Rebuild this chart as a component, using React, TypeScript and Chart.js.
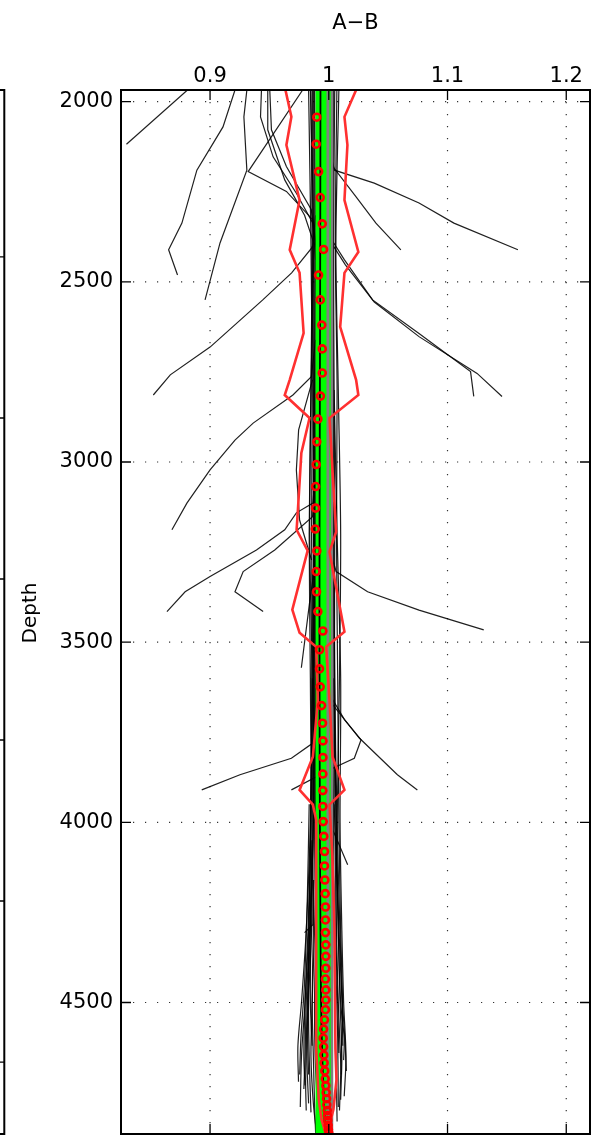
import React, { useEffect, useRef } from "react";
import { Chart, registerables } from "chart.js";

Chart.register(...registerables);

type Pair = [number, number];

const titleText = "A−B";
const depthLabel = "Depth";
const xTicks = [0.9, 1, 1.1, 1.2];
const depthTicks = [2000, 2500, 3000, 3500, 4000, 4500];
const neighborTicks = [1, 2, 3, 4, 5, 6];
const xLimits = [0.825, 1.22];
const depthLimits = [1967.5, 4865];
const neighborLimits = [-0.037, 6.447];

// red circle markers (value per depth bin)
const circleDepths = [
  2043, 2118, 2194, 2266, 2339, 2410, 2481, 2550, 2620, 2686, 2753,
  2817, 2881, 2944, 3007, 3068, 3128, 3186, 3247, 3304, 3360, 3415, 3469, 3521, 3574, 3624,
  3676, 3725, 3774, 3820, 3866, 3912, 3956, 3998, 4039, 4081, 4121, 4160, 4198, 4235,
  4271, 4306, 4340, 4372, 4405, 4435, 4465, 4493, 4520, 4548, 4574, 4599, 4623, 4646,
  4668, 4690, 4712, 4731, 4750, 4767, 4784, 4800, 4814, 4828, 4841, 4853, 4862,
];
const circleValues = [
  0.9899, 0.9894, 0.9914, 0.9928, 0.9945, 0.9956, 0.9914, 0.9928, 0.9941, 0.9945, 0.9945,
  0.993, 0.9908, 0.9899, 0.9894, 0.9889, 0.9889, 0.9886, 0.9899, 0.9894, 0.9897, 0.9908, 0.995, 0.9922, 0.9922, 0.9928,
  0.9939, 0.9947, 0.9951, 0.9951, 0.995, 0.995, 0.995, 0.9953, 0.9958, 0.9964, 0.9964, 0.9967, 0.997, 0.9972,
  0.9972, 0.9972, 0.9975, 0.9975, 0.9975, 0.9972, 0.9975, 0.9975, 0.9972, 0.9964, 0.9956, 0.9953, 0.9956, 0.9958,
  0.9961, 0.9966, 0.997, 0.9975, 0.9978, 0.9981, 0.9983, 0.9987, 0.9989, 0.9992, 0.9995, 0.9997, 1.0,
];

// red envelope lines [value, depth]
const envelopeLeft: Pair[] = [
  [0.9635, 1967.5], [0.9685, 2042], [0.9643, 2120], [0.9754, 2273], [0.9671, 2411],
  [0.9754, 2475], [0.9788, 2642], [0.9671, 2772], [0.9629, 2814], [0.9838, 2878],
  [0.9769, 2975], [0.974, 3133], [0.9729, 3188], [0.9822, 3246], [0.9693, 3410],
  [0.9754, 3474], [0.9894, 3513], [0.9908, 3660], [0.9866, 3818], [0.9754, 3910],
  [0.9866, 3951], [0.9894, 3993], [0.9894, 4630], [0.9916, 4770], [0.9939, 4825], [0.9972, 4862],
];
const envelopeRight: Pair[] = [
  [1.023, 1967.5], [1.0132, 2042], [1.0157, 2120], [1.0132, 2273], [1.0249, 2417],
  [1.0132, 2475], [1.0096, 2625], [1.023, 2772], [1.0249, 2814], [1.0006, 2878],
  [1.0031, 3022], [1.0062, 3194], [1.0006, 3249], [1.0132, 3471], [0.9978, 3513],
  [1.0006, 3660], [1.0031, 3818], [1.0132, 3910], [1.0006, 3951], [1.0031, 4100],
  [1.0048, 4300], [1.0056, 4630], [1.0065, 4714], [1.0039, 4797], [0.9989, 4862],
];

// green band and its grey edges
const bandOutline: Pair[] = [[0.9889, 1950], [0.9889, 4880], [1.0027, 4880], [1.0027, 1950]];
const greyEdgeInner: Pair[] = [[0.9993, 1950], [0.9993, 4880]];
const greyEdgeOuter: Pair[] = [[1.0027, 1950], [1.0027, 4880]];

// black mean curve
const meanLine: Pair[] = [
  [0.993, 1967.5], [0.9928, 2400], [0.9925, 2800], [0.9922, 3200], [0.9922, 3600],
  [0.9925, 4000], [0.993, 4300], [0.9935, 4500], [0.9945, 4650], [0.996, 4780], [0.997, 4870],
];

// central bundle of logs [value, depth]
const cluster01: Pair[] = [[0.983, 1967.5], [0.985, 2400], [0.986, 2800], [0.9855, 3200], [0.9865, 3600], [0.987, 4000], [0.984, 4300], [0.981, 4500], [0.98, 4650], [0.979, 4740]];
const cluster02: Pair[] = [[0.985, 1967.5], [0.986, 2400], [0.9868, 2800], [0.987, 3200], [0.9872, 3600], [0.9868, 4000], [0.9855, 4300], [0.983, 4500], [0.9835, 4650], [0.985, 4805]];
const cluster03: Pair[] = [[0.9862, 1967.5], [0.9866, 2400], [0.987, 2800], [0.9874, 3200], [0.9876, 3600], [0.988, 4000], [0.987, 4300], [0.986, 4500], [0.987, 4650], [0.988, 4780], [0.989, 4870]];
const cluster04: Pair[] = [[0.9872, 1967.5], [0.9875, 2400], [0.9878, 2800], [0.988, 3200], [0.9884, 3600], [0.9888, 4000], [0.9895, 4300], [0.99, 4500], [0.9905, 4650], [0.9915, 4780], [0.9925, 4870]];
const cluster05: Pair[] = [[0.988, 1967.5], [0.9883, 2400], [0.9886, 2800], [0.9888, 3200], [0.989, 3600], [0.9892, 4000], [0.989, 4300], [0.988, 4500], [0.9885, 4650], [0.99, 4760]];
const cluster06: Pair[] = [[0.9845, 1967.5], [0.9872, 2400], [0.985, 2800], [0.984, 3200], [0.9858, 3600], [0.9845, 4000], [0.981, 4300], [0.977, 4500], [0.974, 4620], [0.9745, 4720]];
const cluster07: Pair[] = [[1.005, 1967.5], [1.004, 2400], [1.0045, 2800], [1.005, 3200], [1.0048, 3600], [1.006, 4000], [1.008, 4300], [1.0095, 4500], [1.011, 4650], [1.01, 4770]];
const cluster08: Pair[] = [[1.0068, 1967.5], [1.0055, 2400], [1.007, 2800], [1.0065, 3200], [1.0075, 3600], [1.0085, 4000], [1.01, 4300], [1.0115, 4500], [1.0105, 4650], [1.009, 4800]];
const cluster09: Pair[] = [[1.0085, 1967.5], [1.006, 2400], [1.008, 2800], [1.01, 3200], [1.009, 3600], [1.007, 4000], [1.006, 4300], [1.0075, 4500], [1.0085, 4640]];
const cluster10: Pair[] = [[1.004, 1967.5], [1.0035, 2400], [1.0038, 2800], [1.0042, 3200], [1.0035, 3600], [1.004, 4000], [1.0045, 4300], [1.005, 4500], [1.006, 4650], [1.007, 4830]];
const cluster11: Pair[] = [[0.9895, 1967.5], [0.989, 2400], [0.988, 2800], [0.9875, 3200], [0.9885, 3600], [0.987, 4000], [0.9845, 4300], [0.9825, 4500], [0.9815, 4650], [0.983, 4780]];
const cluster12: Pair[] = [[1.003, 1967.5], [1.0033, 2400], [1.0036, 2800], [1.004, 3200], [1.0045, 3600], [1.0052, 4000], [1.0065, 4300], [1.008, 4500], [1.0105, 4700]];
const cluster13: Pair[] = [[0.986, 2400], [0.985, 2800], [0.9835, 3200], [0.9845, 3600], [0.985, 4000], [0.983, 4300], [0.98, 4500], [0.977, 4650], [0.976, 4790]];
const cluster14: Pair[] = [[0.988, 3200], [0.987, 3600], [0.986, 4000], [0.985, 4300], [0.9845, 4500], [0.986, 4620]];
const cluster15: Pair[] = [[1.0045, 2800], [1.007, 3200], [1.01, 3600], [1.0095, 4000], [1.011, 4300], [1.0125, 4500], [1.0145, 4650], [1.013, 4760]];
const cluster16: Pair[] = [[0.9862, 3600], [0.985, 4000], [0.9825, 4300], [0.98, 4500], [0.979, 4650], [0.98, 4730]];
const cluster17: Pair[] = [[1.004, 3600], [1.0065, 4000], [1.008, 4300], [1.01, 4500], [1.013, 4600], [1.0125, 4660]];
const cluster18: Pair[] = [[0.9905, 1967.5], [0.99, 2400], [0.9895, 2800], [0.989, 3200], [0.9895, 3600], [0.99, 4000], [0.988, 4300], [0.986, 4500], [0.985, 4650], [0.987, 4780], [0.99, 4870]];
const cluster19: Pair[] = [[0.9835, 3950], [0.982, 4200], [0.9795, 4450], [0.9765, 4600], [0.9755, 4700]];
const cluster20: Pair[] = [[1.0045, 3950], [1.0075, 4200], [1.0105, 4450], [1.0135, 4600], [1.0148, 4690]];
const cluster21: Pair[] = [[0.9858, 4050], [0.984, 4300], [0.9815, 4550], [0.9805, 4720], [0.981, 4800]];
const cluster22: Pair[] = [[1.0035, 4100], [1.0055, 4350], [1.0075, 4600], [1.008, 4790]];
const cluster23: Pair[] = [[0.9862, 3300], [0.9855, 3800], [0.9838, 4200], [0.9822, 4600], [0.983, 4700]];
const cluster24: Pair[] = [[1.0042, 3300], [1.0058, 3800], [1.0085, 4200], [1.0112, 4500], [1.0118, 4620]];

// logs that stray away from the bundle [value, depth]
const stray01: Pair[] = [[0.881, 1967.5], [0.8296, 2118]];
const stray02: Pair[] = [[0.921, 1967.5], [0.9109, 2070], [0.8889, 2190], [0.8763, 2337], [0.8651, 2411], [0.8726, 2481]];
const stray03: Pair[] = [[0.931, 1967.5], [0.9285, 2042], [0.931, 2190], [0.9084, 2392], [0.8958, 2550]];
const stray04: Pair[] = [[0.9433, 1967.5], [0.9425, 2042], [0.9531, 2153], [0.9727, 2254], [0.9866, 2337], [0.9889, 2439]];
const stray05: Pair[] = [[0.9486, 1967.5], [0.9486, 2078], [0.9629, 2217], [0.9796, 2315], [0.988, 2398]];
const stray06: Pair[] = [[0.9503, 1967.5], [0.9517, 2078], [0.9643, 2180], [0.9853, 2300], [0.9905, 2439]];
const stray07: Pair[] = [[0.978, 1967.5], [0.9321, 2194], [0.9643, 2249], [0.9866, 2328], [0.9894, 2402]];
const stray08: Pair[] = [[1.0006, 2134], [1.0048, 2190], [1.0383, 2226], [1.076, 2281], [1.1054, 2337], [1.1593, 2411]];
const stray09: Pair[] = [[0.9989, 2106], [1.0034, 2180], [1.023, 2264], [1.0397, 2337], [1.0607, 2411]];
const stray10: Pair[] = [[0.996, 2330], [1.0034, 2388], [1.0132, 2439], [1.0369, 2550], [1.076, 2643], [1.1194, 2749], [1.1221, 2818]];
const stray11: Pair[] = [[0.9965, 2340], [1.0034, 2398], [1.014, 2453], [1.0383, 2556], [1.076, 2652], [1.1249, 2754], [1.1459, 2818]];
const stray12: Pair[] = [[0.9889, 2315], [0.9863, 2403], [0.9687, 2475], [0.9444, 2550], [0.9, 2681], [0.8665, 2758], [0.8522, 2814]];
const stray13: Pair[] = [[0.9889, 2661], [0.9853, 2763], [0.9698, 2814], [0.9363, 2892], [0.921, 2939], [0.9, 3022], [0.8805, 3114], [0.8679, 3188]];
const stray14: Pair[] = [[0.9889, 3022], [0.9866, 3114], [0.9727, 3141], [0.9629, 3188], [0.9391, 3244], [0.9, 3318], [0.879, 3360], [0.8637, 3415]];
const stray15: Pair[] = [[0.9889, 3050], [0.9863, 3152], [0.9545, 3244], [0.9279, 3304], [0.921, 3360], [0.9447, 3415]];
const stray16: Pair[] = [[1.0031, 3050], [1.0034, 3272], [1.0062, 3304], [1.0327, 3360], [1.076, 3411], [1.1305, 3466]];
const stray17: Pair[] = [[0.9889, 3272], [0.9838, 3391], [0.9769, 3571]];
const stray18: Pair[] = [[0.9897, 3660], [0.9866, 3780], [0.9685, 3822], [0.9252, 3868], [0.893, 3910]];
const stray19: Pair[] = [[1.0023, 3607], [1.0034, 3674], [1.0257, 3766], [1.0578, 3868], [1.0746, 3910]];
const stray20: Pair[] = [[1.0034, 3660], [1.0132, 3715], [1.0272, 3771], [1.0215, 3822], [1.0034, 3850], [0.9685, 3910]];
const stray21: Pair[] = [[1.004, 3940], [1.0034, 4021], [1.0159, 4118]];
const stray22: Pair[] = [[0.9872, 4160], [0.9866, 4284], [0.9796, 4306]];
const stray23: Pair[] = [[0.9863, 2772], [0.9746, 2911], [0.9727, 3022], [0.9754, 3161], [0.9855, 3272]];

const strayLines = [
  stray01, stray02, stray03, stray04, stray05, stray06, stray07, stray08, stray09, stray10, stray11, stray12,
  stray13, stray14, stray15, stray16, stray17, stray18, stray19, stray20, stray21, stray22, stray23,
];
const clusterLines = [
  cluster01, cluster02, cluster03, cluster04, cluster05, cluster06, cluster07, cluster08, cluster09,
  cluster10, cluster11, cluster12, cluster13, cluster14, cluster15, cluster16, cluster17, cluster18,
  cluster19, cluster20, cluster21, cluster22, cluster23, cluster24,
];

const TICK_FONT = '"DejaVu Sans", Verdana, sans-serif';

const fromPairs = (p: Pair[]) => p.map(([x, y]) => ({ x, y }));

const zeroPadding = (s: any) => {
  s.paddingTop = 0;
  s.paddingBottom = 0;
  s.paddingLeft = 0;
  s.paddingRight = 0;
};

const framePlugin = {
  id: "frame",
  beforeDatasetsDraw(chart: any) {
    const { ctx, chartArea: a, scales } = chart;
    ctx.save();
    ctx.strokeStyle = "#333";
    ctx.lineWidth = 1.2;
    ctx.setLineDash([1.2, 10.8]);
    ctx.beginPath();
    for (const v of xTicks) {
      const px = scales.x.getPixelForValue(v);
      ctx.moveTo(px, a.top);
      ctx.lineTo(px, a.bottom);
    }
    for (const v of depthTicks) {
      const py = scales.y.getPixelForValue(v);
      ctx.moveTo(a.left, py);
      ctx.lineTo(a.right, py);
    }
    ctx.stroke();
    ctx.restore();
  },
  afterDatasetsDraw(chart: any) {
    const { ctx, chartArea: a, scales } = chart;
    const tl = 10;
    ctx.save();
    ctx.strokeStyle = "#000";
    ctx.lineWidth = 1.3;
    ctx.beginPath();
    for (const v of xTicks) {
      const px = scales.x.getPixelForValue(v);
      ctx.moveTo(px, a.top);
      ctx.lineTo(px, a.top + tl);
      ctx.moveTo(px, a.bottom);
      ctx.lineTo(px, a.bottom - tl);
    }
    for (const v of depthTicks) {
      const py = scales.y.getPixelForValue(v);
      ctx.moveTo(a.left, py);
      ctx.lineTo(a.left + tl, py);
      ctx.moveTo(a.right, py);
      ctx.lineTo(a.right - tl, py);
    }
    ctx.stroke();
    ctx.lineWidth = 2;
    ctx.strokeRect(a.left, a.top, a.right - a.left, a.bottom - a.top);
    // right edge of the neighbouring panel
    const nx = a.left - 116.7;
    ctx.beginPath();
    ctx.moveTo(nx - 20, a.top);
    ctx.lineTo(nx, a.top);
    ctx.lineTo(nx, a.bottom);
    ctx.lineTo(nx - 20, a.bottom);
    ctx.stroke();
    ctx.lineWidth = 1.3;
    ctx.beginPath();
    for (const v of neighborTicks) {
      const py = scales.y2.getPixelForValue(v);
      ctx.moveTo(nx, py);
      ctx.lineTo(nx - tl, py);
    }
    ctx.stroke();
    // y-axis label, left of the tick labels
    ctx.translate(a.left - 90, (a.top + a.bottom) / 2 + 1);
    ctx.rotate(-Math.PI / 2);
    ctx.fillStyle = "#000";
    ctx.font = `20px ${TICK_FONT}`;
    ctx.textAlign = "center";
    ctx.textBaseline = "middle";
    ctx.fillText(depthLabel, 0, 0);
    ctx.restore();
  },
};

export default function App() {
  const ref = useRef<HTMLCanvasElement>(null);
  useEffect(() => {
    document.body.style.margin = "0";
    const canvas = ref.current!;
    const datasets: any[] = [];
    const thin = { showLine: true, pointRadius: 0, borderColor: "rgba(0,0,0,0.88)", borderWidth: 1.2, fill: false };
    strayLines.forEach((l) => datasets.push({ ...thin, data: fromPairs(l), tension: 0, order: 6 }));
    clusterLines.forEach((l) => datasets.push({ ...thin, data: fromPairs(l), tension: 0.3, order: 6 }));
    datasets.push({
      data: fromPairs(bandOutline),
      showLine: true,
      pointRadius: 0,
      borderWidth: 0,
      borderColor: "rgba(0,0,0,0)",
      backgroundColor: "#00ff00",
      fill: "shape",
      order: 5,
    });
    datasets.push({ data: fromPairs(greyEdgeInner), showLine: true, pointRadius: 0, borderColor: "#808080", borderWidth: 3, order: 4 });
    datasets.push({ data: fromPairs(greyEdgeOuter), showLine: true, pointRadius: 0, borderColor: "#808080", borderWidth: 2.5, order: 4 });
    datasets.push({ data: fromPairs(meanLine), showLine: true, pointRadius: 0, borderColor: "#000", borderWidth: 1.8, tension: 0.3, order: 3 });
    datasets.push({ data: fromPairs(envelopeLeft), showLine: true, pointRadius: 0, borderColor: "#ff3030", borderWidth: 2.6, order: 2 });
    datasets.push({ data: fromPairs(envelopeRight), showLine: true, pointRadius: 0, borderColor: "#ff3030", borderWidth: 2.6, order: 2 });
    datasets.push({
      data: circleDepths.map((d, i) => ({ x: circleValues[i], y: d })),
      showLine: false,
      pointStyle: "circle",
      pointRadius: 3.5,
      pointBorderWidth: 2.6,
      pointBorderColor: "#ff0000",
      pointBackgroundColor: "rgba(0,0,0,0)",
      order: 1,
    });

    const tickFont = { family: TICK_FONT, size: 21 };
    const chart = new Chart(canvas, {
      type: "scatter",
      data: { datasets },
      options: {
        responsive: false,
        animation: false,
        events: [],
        layout: { autoPadding: false, padding: { left: 0, right: 26, top: 0, bottom: 3 } },
        plugins: {
          legend: { display: false },
          tooltip: { enabled: false },
          title: {
            display: true,
            text: titleText,
            fullSize: false,
            color: "#000",
            font: { family: TICK_FONT, size: 21, weight: "normal" },
            padding: { top: 11, bottom: 3.8 },
          },
        },
        scales: {
          x: {
            type: "linear",
            position: "top",
            min: xLimits[0],
            max: xLimits[1],
            grid: { display: false, drawTicks: false },
            border: { display: false },
            ticks: { font: tickFont, color: "#000", padding: 1, maxRotation: 0, autoSkip: false, callback: (v: any) => String(v) },
            afterBuildTicks: (s: any) => {
              s.ticks = xTicks.map((v) => ({ value: v }));
            },
            afterFit: (s: any) => {
              s.height = 50;
              zeroPadding(s);
            },
          },
          y: {
            type: "linear",
            position: "left",
            reverse: true,
            min: depthLimits[0],
            max: depthLimits[1],
            grid: { display: false, drawTicks: false },
            border: { display: false },
            ticks: { font: tickFont, color: "#000", padding: 8, autoSkip: false, callback: (v: any) => String(v) },
            afterBuildTicks: (s: any) => {
              s.ticks = depthTicks.map((v) => ({ value: v }));
            },
            afterFit: (s: any) => {
              s.width = 121;
              zeroPadding(s);
            },
          },
          y2: {
            type: "linear",
            position: "right",
            display: false,
            reverse: true,
            min: neighborLimits[0],
            max: neighborLimits[1],
            ticks: { display: false },
            grid: { display: false, drawTicks: false },
            afterFit: (s: any) => {
              s.width = 0;
              zeroPadding(s);
            },
          },
        },
      } as any,
      plugins: [framePlugin],
    });
    return () => chart.destroy();
  }, []);
  return <canvas ref={ref} width={616} height={1137} style={{ display: "block" }} />;
}
